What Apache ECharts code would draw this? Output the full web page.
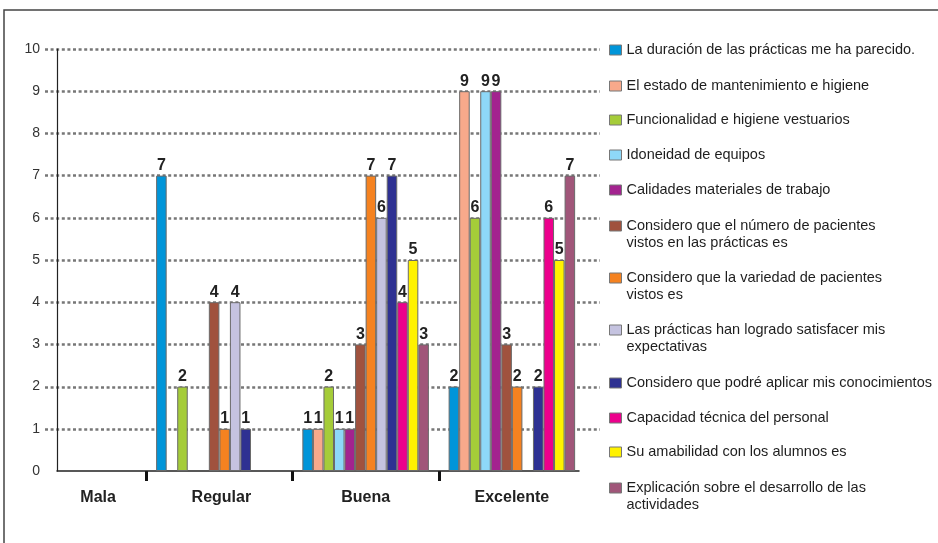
<!DOCTYPE html>
<html>
<head>
<meta charset="utf-8">
<script src="https://cdn.jsdelivr.net/npm/echarts@6/dist/echarts.min.js"></script>
<style>html,body{margin:0;padding:0;background:#fff}#c{width:938px;height:543px}</style>
</head>
<body>
<div id="c"></div>
<script>
const categories = ['Mala', 'Regular', 'Buena', 'Excelente'];
const yTicks = [0, 1, 2, 3, 4, 5, 6, 7, 8, 9, 10];
const seriesNames = [
  'La duración de las prácticas me ha parecido.',
  'El estado de mantenimiento e higiene',
  'Funcionalidad e higiene vestuarios',
  'Idoneidad de equipos',
  'Calidades materiales de trabajo',
  'Considero que el número de pacientes\nvistos en las prácticas es',
  'Considero que la variedad de pacientes\nvistos es',
  'Las prácticas han logrado satisfacer mis\nexpectativas',
  'Considero que podré aplicar mis conocimientos',
  'Capacidad técnica del personal',
  'Su amabilidad con los alumnos es',
  'Explicación sobre el desarrollo de las\nactividades'
];
const duracion      = [0, 7, 1, 2];
const mantenimiento = [0, 0, 1, 9];
const vestuarios    = [0, 2, 2, 6];
const equipos       = [0, 0, 1, 9];
const materiales    = [0, 0, 1, 9];
const numeroPac     = [0, 4, 3, 3];
const variedadPac   = [0, 1, 7, 2];
const expectativas  = [0, 4, 6, 0];
const aplicar       = [0, 1, 7, 2];
const capacidad     = [0, 0, 4, 6];
const amabilidad    = [0, 0, 5, 5];
const explicacion   = [0, 0, 3, 7];
const seriesValues = [duracion, mantenimiento, vestuarios, equipos, materiales, numeroPac,
  variedadPac, expectativas, aplicar, capacidad, amabilidad, explicacion];

const colors = ['#0095D9', '#F8A98B', '#A5CC39', '#8ED8F8', '#A3238F', '#A0523E',
  '#F58220', '#C5C3E0', '#2E3192', '#EC008C', '#FFF200', '#A05679'];
const legendCenters = [50, 86, 120, 155, 190, 226, 278, 330, 383, 418, 452, 488];

const FONT = 'Liberation Sans, Arial, sans-serif';
const chart = echarts.init(document.getElementById('c'), null, {renderer: 'canvas'});

const LH = 17;
const legends = seriesNames.map((n, i) => {
  const multi = n.indexOf('\n') >= 0;
  return {
    orient: 'vertical', left: 609, top: multi ? legendCenters[i] - LH * 1.5 : legendCenters[i] - LH / 2,
    padding: 0, itemWidth: 12, itemHeight: 10, itemGap: 0,
    selectedMode: false,
    formatter: name => multi ? '\n' + name : name,
    data: [{name: n, icon: 'rect', itemStyle: {borderColor: '#777', borderWidth: 1}}],
    textStyle: {fontFamily: FONT, fontSize: 14.5, color: '#1e1e1e', lineHeight: LH}
  };
});

const labelShift = [50, 4, 0, 0];

const option = {
  animation: false,
  color: colors,
  legend: legends,
  graphic: [{type: 'rect', shape: {x: 4, y: 10, width: 940, height: 540},
    style: {fill: 'none', stroke: '#444', lineWidth: 1.5}, silent: true}],
  grid: [
    {left: -6, width: 591, top: 49, height: 422},
    {left: 57, width: 522, top: 49, height: 422},
    {left: 45, width: 555, top: 49, height: 380},
    {left: -6, width: 591, top: 471, height: 10}
  ],
  xAxis: [
    {gridIndex: 0, type: 'category', data: categories,
      axisLine: {show: false}, axisTick: {show: false}, splitLine: {show: false},
      axisLabel: {margin: 19, fontFamily: FONT, fontSize: 16, fontWeight: 'bold', color: '#222',
        formatter: (v, i) => '{s' + i + '|' + v + '}',
        rich: {
          s0: {fontFamily: FONT, fontSize: 16, fontWeight: 'bold', color: '#222', padding: [0, 0, 0, labelShift[0]]},
          s1: {fontFamily: FONT, fontSize: 16, fontWeight: 'bold', color: '#222', padding: [0, 0, 0, labelShift[1]]},
          s2: {fontFamily: FONT, fontSize: 16, fontWeight: 'bold', color: '#222'},
          s3: {fontFamily: FONT, fontSize: 16, fontWeight: 'bold', color: '#222'}
        }}},
    {gridIndex: 1, type: 'category', data: categories, axisLine: {show: true, lineStyle: {color: '#222', width: 1.5}},
      axisTick: {show: false}, axisLabel: {show: false}, splitLine: {show: false}},
    {gridIndex: 2, type: 'category', data: categories, show: false},
    {gridIndex: 3, type: 'category', data: categories, axisLine: {show: false}, axisTick: {show: false},
      axisLabel: {show: false},
      splitLine: {show: true, showMinLine: false, showMaxLine: false, lineStyle: {color: '#111', width: 3, type: 'solid'}}}
  ],
  yAxis: [
    {gridIndex: 0, type: 'value', min: 0, max: 10, interval: 1, show: false},
    {gridIndex: 1, type: 'value', min: 0, max: 10, interval: 1,
      axisLine: {show: true, lineStyle: {color: '#222', width: 1.2}}, axisTick: {show: false},
      splitLine: {show: false},
      axisLabel: {margin: 17, fontFamily: FONT, fontSize: 14, color: '#333',
        formatter: v => yTicks.indexOf(v) >= 0 ? String(v) : ''}},
    {gridIndex: 2, type: 'value', min: 1, max: 10, interval: 1, axisLine: {show: false},
      axisTick: {show: false}, axisLabel: {show: false},
      splitLine: {show: true, lineStyle: {color: '#777', width: 2.6, type: [3, 2.6]}}},
    {gridIndex: 3, type: 'value', show: false}
  ],
  series: seriesNames.map((n, i) => ({
    name: n, type: 'bar', xAxisIndex: 0, yAxisIndex: 0,
    data: seriesValues[i].map(v => v === 0 ? {value: 0, itemStyle: {borderWidth: 0}} : v),
    barGap: '0%', barCategoryGap: '13.5%',
    itemStyle: {color: colors[i], borderColor: '#6a6a6a', borderWidth: 1},
    label: {show: true, position: 'top', distance: 2, fontFamily: FONT, fontSize: 16,
      fontWeight: 'bold', color: '#222', formatter: p => p.value ? String(p.value) : ''},
    z: 3
  }))
};
chart.setOption(option);
</script>
</body>
</html>
